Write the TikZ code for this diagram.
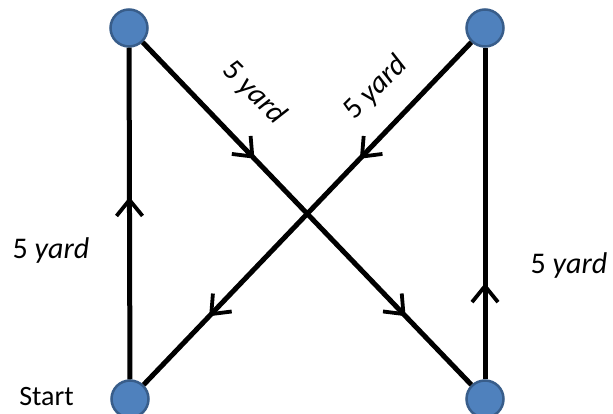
\documentclass[tikz,border=0pt]{standalone}
\usepackage{fontspec}
\setmainfont{Carlito}
\usetikzlibrary{arrows.meta,decorations.markings}
\definecolor{dotfill}{HTML}{4F81BD}
\definecolor{dotline}{HTML}{385D8A}
\tikzset{
  dot/.style={circle,fill=dotfill,draw=dotline,line width=2.5pt,minimum size=37pt,inner sep=0pt},
  leg/.style={line width=5pt,black},
  barbat/.style={postaction={decorate,decoration={markings,
      mark=at position #1 with {\arrow[line width=3.8pt]{Straight Barb[length=16pt,width=26pt]}}}}},
  lbl/.style={font=\fontsize{30}{34}\selectfont,inner sep=0pt},
  slbl/.style={font=\fontsize{28}{32}\selectfont,inner sep=0pt}
}
\begin{document}
\begin{tikzpicture}[x=1pt,y=-1pt]
\useasboundingbox (0,0) rectangle (613,414);
\node[dot] (tl) at (129,28) {};
\node[dot] (tr) at (485,28) {};
\node[dot] (bl) at (130,399) {};
\node[dot] (br) at (485,399) {};
\draw[leg,barbat=0.55] (bl) -- (tl);
\draw[leg,barbat=0.29] (br) -- (tr);
\draw[leg,barbat=0.34,barbat=0.80] (tl) -- (br);
\draw[leg,barbat=0.34,barbat=0.80] (tr) -- (bl);
\node[lbl] (l1) at (51,251) {5 \textit{yard}};
\node[lbl] (l2) at (569,266) {5 \textit{yard}};
\node[lbl] (l3) at (254,93) [rotate=-45] {5 \textit{yard}};
\node[lbl] (l4) at (376,88) [rotate=45] {5 \textit{yard}};
\node[slbl,anchor=east] (st) at (74,397) {Start};
\end{tikzpicture}
\end{document}
